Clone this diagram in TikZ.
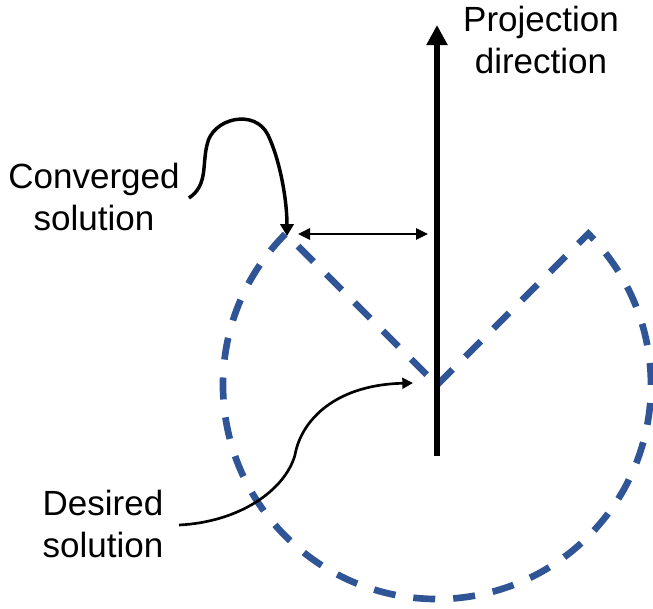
\documentclass[tikz,border=0pt]{standalone}
\usepackage{fontspec}
\setmainfont{Liberation Sans}
\usetikzlibrary{arrows.meta}
\definecolor{pieblue}{RGB}{47,85,151}
\begin{document}
\begin{tikzpicture}[x=0.75pt,y=-0.75pt,
  lbl/.style={align=center,anchor=base,inner sep=0pt,font=\fontsize{26.25}{31.5}\selectfont},
  piedash/.style={draw=pieblue,line width=5pt,dash pattern=on 16.5pt off 13.5pt,line join=miter},
]
\useasboundingbox (0,0) rectangle (653,608);
% geometry
\coordinate (C) at (437,385);
\coordinate (L) at (285.7,233.7);
\coordinate (R) at (588.3,233.7);
% pie outline
\draw[piedash] (C) -- (R) arc[start angle=45,end angle=-225,radius=160.5pt] -- (C);
% projection direction arrow
\coordinate (pbot) at (437,456);
\coordinate (ptop) at (437,25);
\draw[line width=4.5pt,-{Triangle[width=15pt,length=15pt]}] (pbot) -- (ptop);
% distance double arrow
\coordinate (dl) at (298,234);
\coordinate (dr) at (428,234);
\draw[line width=1.6pt,{Triangle[width=8.5pt,length=9pt]}-{Triangle[width=8.5pt,length=9pt]}] (dl) -- (dr);
% labels (anchor base = last line baseline)
\node[lbl] (proj) at (541,73) {Projection\\direction};
\node[lbl] (conv) at (94,230) {Converged\\solution};
\node[lbl] (des) at (103,557) {Desired\\solution};
% converged curve
\coordinate (cs) at (189,198);
\coordinate (ce) at (287,236);
\draw[line width=2.6pt,-{Triangle[width=10pt,length=9pt]}] (cs) .. controls (208,185) and (202,165) .. (207,145)
  .. controls (212,118) and (255,108) .. (268,135)
  .. controls (280,160) and (287,200) .. (ce);
% desired curve
\coordinate (ds) at (179,525);
\coordinate (de) at (413,383);
\draw[line width=2pt,-{Triangle[width=8pt,length=8pt]}] (ds) .. controls (240,522) and (285,490) .. (295,455)
  .. controls (300,425) and (330,385) .. (de);
\end{tikzpicture}
\end{document}
